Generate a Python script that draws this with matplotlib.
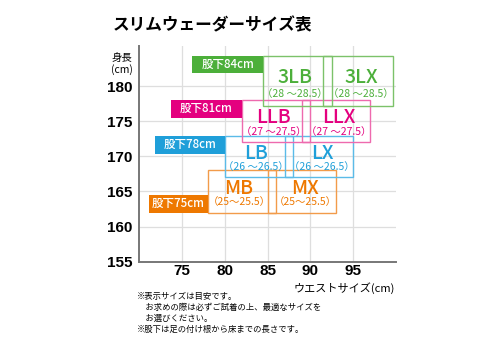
import matplotlib
matplotlib.use("Agg")
import matplotlib.pyplot as plt
from matplotlib.patches import Rectangle

plt.rcParams['font.family'] = ['Noto Sans CJK JP', 'DejaVu Sans']

# data
inseam_labels = ['股下75cm', '股下78cm', '股下81cm', '股下84cm']
left_sizes = ['MB', 'LB', 'LLB', '3LB']
right_sizes = ['MX', 'LX', 'LLX', '3LX']
foot_ranges = ['（25～25.5）', '（26 ～26.5）', '（27 ～27.5）', '（28 ～28.5）']
height_lo = [162.0, 167.1, 172.0, 177.1]
height_hi = [168.0, 172.9, 178.0, 184.3]
left_waist_lo = [78.0, 80.0, 82.0, 84.5]
left_waist_hi = [86.0, 88.0, 90.0, 92.5]
right_waist_lo = [85.0, 87.0, 89.0, 91.5]
right_waist_hi = [93.0, 95.0, 97.0, 99.6]
x_ticks = [75, 80, 85, 90, 95]
y_ticks = [155, 160, 165, 170, 175, 180]

# styles
fill_colors = ['#ee7800', '#1f9fd9', '#e4007f', '#4caf3a']
edge_colors = ['#f29b4a', '#5bbbe8', '#ee6aae', '#7cc26a']
tag_width = [6.9, 8.2, 8.3, 8.3]
tag_height = 2.5
tag_at_bottom = [True, False, False, False]

fig = plt.figure(figsize=(5.0, 3.53), dpi=100)
ax = fig.add_axes([0.2786, 0.2586, 0.5134, 0.6111])
ax.set_xlim(70, 100)
ax.set_ylim(155, 185.7)

ax.set_xticks(x_ticks)
ax.set_yticks(y_ticks)
ax.grid(True, color='#dedede', linewidth=0.9)
ax.set_axisbelow(True)
for s in ['top', 'right']:
    ax.spines[s].set_visible(False)
for s in ['left', 'bottom']:
    ax.spines[s].set_color('#777777')
    ax.spines[s].set_linewidth(1.4)
ax.tick_params(axis='x', length=0, pad=2)
ax.tick_params(axis='y', length=0, pad=5)
for lab in ax.get_xticklabels() + ax.get_yticklabels():
    lab.set_fontfamily('Liberation Sans')
    lab.set_fontweight('bold')
    lab.set_fontsize(11)

for i in range(len(inseam_labels)):
    lo, hi = height_lo[i], height_hi[i]
    col = fill_colors[i]
    ec = edge_colors[i]
    boxes = [(left_waist_lo[i], left_waist_hi[i], left_sizes[i], -0.35),
             (right_waist_lo[i], right_waist_hi[i], right_sizes[i], 0.35)]
    for x0, x1, name, shift in boxes:
        ax.add_patch(Rectangle((x0, lo), x1 - x0, hi - lo, fill=False,
                               edgecolor=ec, linewidth=1.0, zorder=3))
        cx = (x0 + x1) / 2 + shift
        ax.text(cx, lo + 0.58 * (hi - lo), name, color=col, fontsize=14,
                fontweight='medium', ha='center', va='center', zorder=4)
        ax.text(cx, lo + 0.24 * (hi - lo), foot_ranges[i], color=col,
                fontsize=7.5, ha='center', va='center', zorder=4)
    # inseam tag
    tx1 = left_waist_lo[i]
    tx0 = tx1 - tag_width[i]
    ty0 = lo if tag_at_bottom[i] else hi - tag_height
    ax.add_patch(Rectangle((tx0, ty0), tag_width[i], tag_height,
                           facecolor=col, edgecolor='none', zorder=3))
    ax.text((tx0 + tx1) / 2, ty0 + tag_height / 2, inseam_labels[i],
            color='white', fontsize=8.3, fontweight='medium',
            ha='center', va='center', zorder=4)

fig.text(0.226, 0.927, 'スリムウェーダーサイズ表', fontsize=12, fontweight='bold',
         ha='left', va='center')
fig.text(0.244, 0.818, '身長\n(cm)', fontsize=7.5, ha='center', va='center',
         linespacing=1.1)
fig.text(0.79, 0.184, 'ウエストサイズ(cm)', fontsize=8, ha='right', va='center')

notes = ['※表示サイズは目安です。',
         '　お求めの際は必ずご試着の上、最適なサイズを',
         '　お選びください。',
         '※股下は足の付け根から床までの長さです。']
for k, line in enumerate(notes):
    fig.text(0.274, 0.16 - k * 0.031, line, fontsize=6, ha='left', va='center')

fig.savefig('out.png', dpi=100)
